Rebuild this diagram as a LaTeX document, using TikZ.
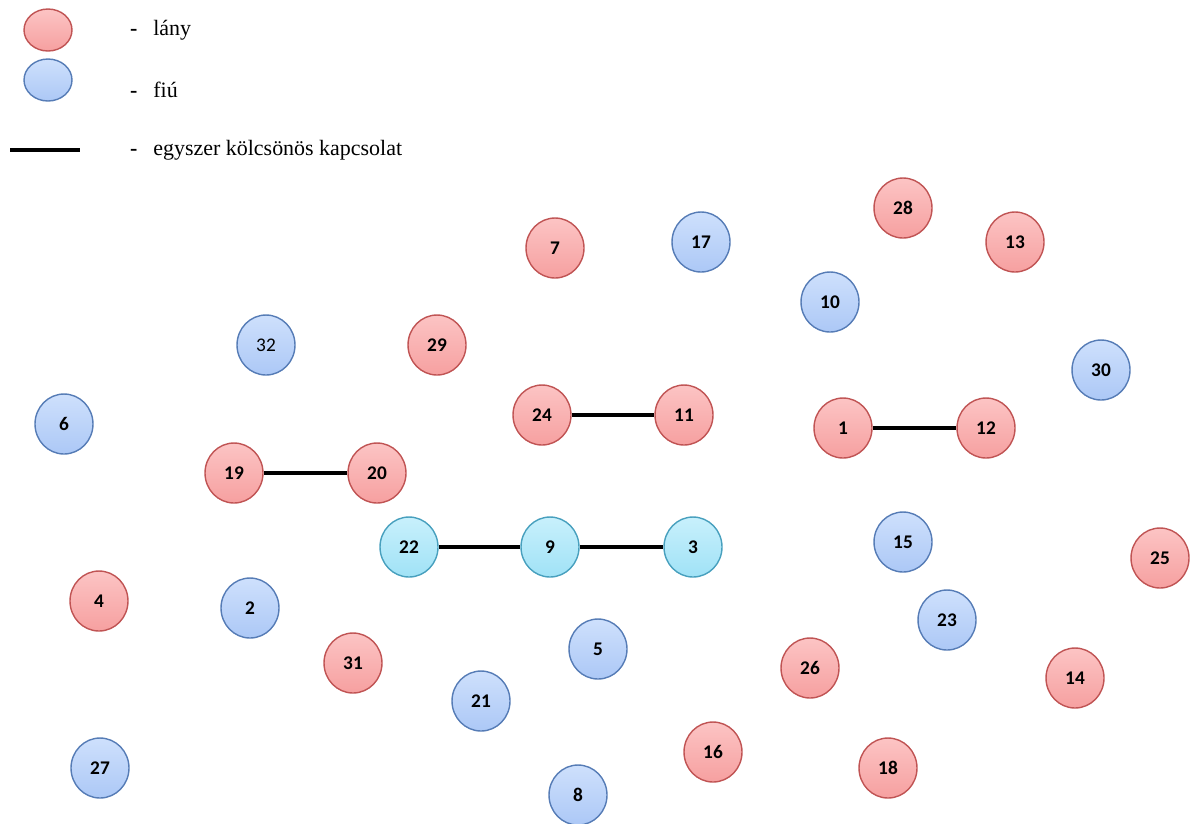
\documentclass[tikz,border=0pt]{standalone}
\usepackage{fontspec}
\setmainfont{Liberation Serif}
\newfontfamily\numfont{Carlito}
\newfontfamily\legfont{Liberation Serif}
\usepackage{tikz}
\usetikzlibrary{shapes.geometric}

\definecolor{ladyfill}{RGB}{246,160,160}
\definecolor{ladytop}{RGB}{252,196,196}
\definecolor{ladyline}{RGB}{192,84,84}
\definecolor{boyfill}{RGB}{172,200,246}
\definecolor{boytop}{RGB}{206,224,252}
\definecolor{boyline}{RGB}{86,124,182}
\definecolor{chainfill}{RGB}{160,226,246}
\definecolor{chaintop}{RGB}{200,240,252}
\definecolor{chainline}{RGB}{72,160,190}

\begin{document}
\begin{tikzpicture}[x=0.02cm,y=-0.02cm,
  girl/.style={ellipse,draw=ladyline,thick,top color=ladytop,bottom color=ladyfill,minimum width=1.16cm,minimum height=1.2cm,inner sep=0pt,font=\numfont\bfseries\fontsize{11}{13}\selectfont},
  boy/.style={ellipse,draw=boyline,thick,top color=boytop,bottom color=boyfill,minimum width=1.16cm,minimum height=1.2cm,inner sep=0pt,font=\numfont\bfseries\fontsize{11}{13}\selectfont},
  chain/.style={ellipse,draw=chainline,thick,top color=chaintop,bottom color=chainfill,minimum width=1.16cm,minimum height=1.2cm,inner sep=0pt,font=\numfont\bfseries\fontsize{11}{13}\selectfont},
  link/.style={line width=2.2pt},
  legtext/.style={anchor=west,font=\legfont\fontsize{12.5}{15}\selectfont}]
%\draw[help lines] (0,0) grid (1195,823);
\useasboundingbox (0,0) rectangle (1195,823);
% legend
\node (lg) [ellipse,draw=ladyline,thick,top color=ladytop,bottom color=ladyfill,minimum width=0.96cm,minimum height=0.84cm] at (48,30) {};
\node (lb) [ellipse,draw=boyline,thick,top color=boytop,bottom color=boyfill,minimum width=0.96cm,minimum height=0.84cm] at (48,80) {};
\coordinate (la) at (10,150);
\coordinate (lz) at (80,150);
\draw[link] (la) -- (lz);
\node (tg) [legtext] at (124,30) {\textbf{-}\hspace{9pt}lány};
\node (tb) [legtext] at (124,90) {\textbf{-}\hspace{9pt}fiú};
\node (tl) [legtext] at (124,150) {\textbf{-}\hspace{9pt}egyszer kölcsönös kapcsolat};
% pupils
\node (n28) [girl] at (903,208) {28};
\node (n13) [girl] at (1015,242) {13};
\node (n7) [girl] at (555,248) {7};
\node (n17) [boy] at (701,242) {17};
\node (n10) [boy] at (830,302) {10};
\node (n32) [boy,font=\numfont\fontsize{11}{13}\selectfont] at (266,345) {32};
\node (n29) [girl] at (437,345) {29};
\node (n30) [boy] at (1101,370) {30};
\node (n6) [boy] at (64,424) {6};
\node (n24) [girl] at (542,415) {24};
\node (n11) [girl] at (684,415) {11};
\node (n1) [girl] at (843,428) {1};
\node (n12) [girl] at (986,428) {12};
\node (n19) [girl] at (234,473) {19};
\node (n20) [girl] at (377,473) {20};
\node (n22) [chain] at (409,547) {22};
\node (n9) [chain] at (550,547) {9};
\node (n3) [chain] at (693,547) {3};
\node (n15) [boy] at (903,542) {15};
\node (n25) [girl] at (1160,558) {25};
\node (n4) [girl] at (99,601) {4};
\node (n2) [boy] at (250,608) {2};
\node (n23) [boy] at (947,620) {23};
\node (n31) [girl] at (353,663) {31};
\node (n5) [boy] at (598,649) {5};
\node (n26) [girl] at (810,668) {26};
\node (n14) [girl] at (1075,678) {14};
\node (n21) [boy] at (481,701) {21};
\node (n16) [girl] at (713,752) {16};
\node (n18) [girl] at (888,768) {18};
\node (n27) [boy] at (100,768) {27};
\node (n8) [boy] at (578,795) {8};
\path[link]
(n24) edge (n11)
(n1) edge (n12)
(n19) edge (n20)
(n22) edge (n9)
(n9) edge (n3);
\end{tikzpicture}
\end{document}
